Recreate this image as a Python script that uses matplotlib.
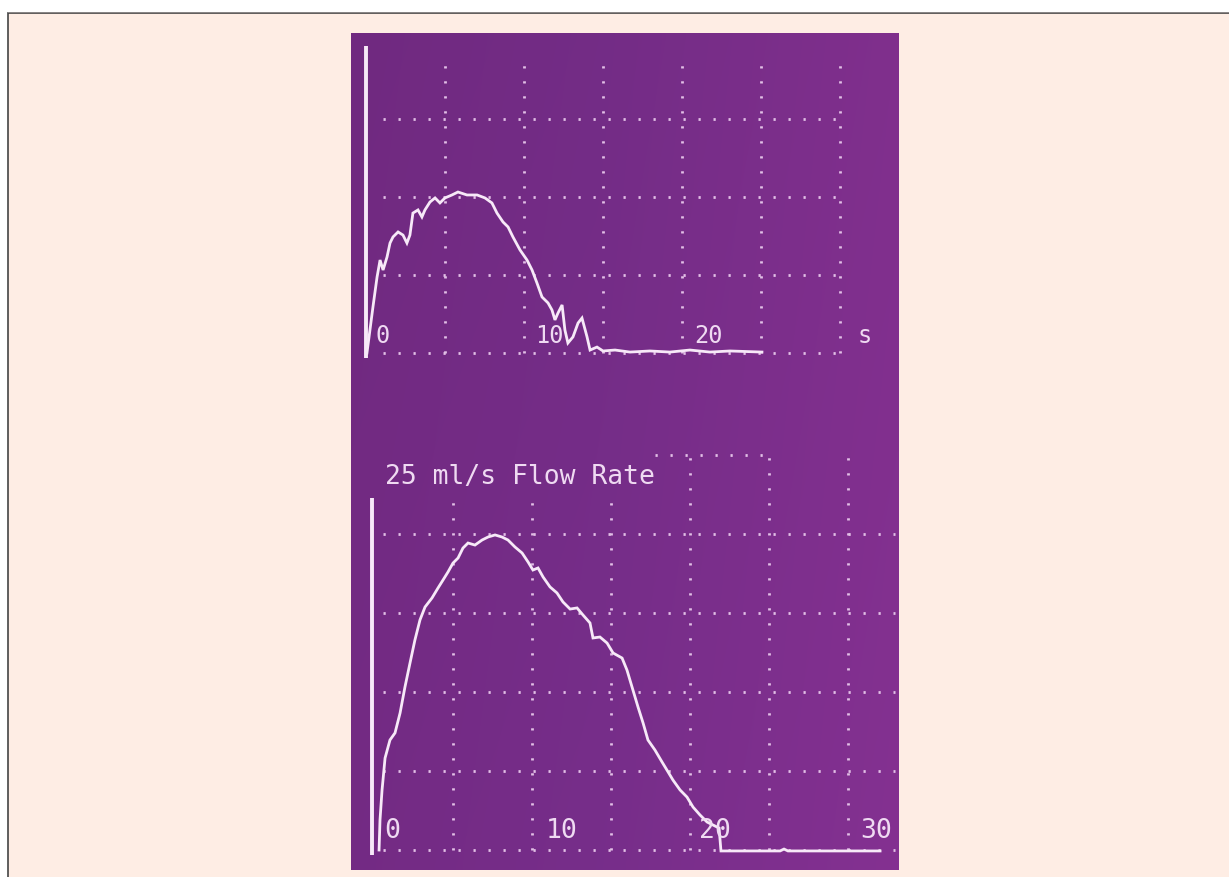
import numpy as np
import matplotlib
matplotlib.use("Agg")
import matplotlib.pyplot as plt
from matplotlib.patches import Rectangle
from matplotlib.colors import to_rgb

plt.rcParams['lines.scale_dashes'] = False

# ---------------- data ----------------
# Upper trace: time (s), flow (ml/s)
top_t = [0.06, 0.44, 0.7, 0.89, 1.08, 1.33, 1.52, 1.71, 2.03, 2.34, 2.59, 2.78, 2.97,
         3.29, 3.54, 3.73, 4.05, 4.37, 4.68, 5.0, 5.44, 5.82, 6.39, 7.03, 7.53, 7.97,
         8.29, 8.67, 8.99, 9.3, 9.75, 10.19, 10.51, 10.82, 11.14, 11.52, 11.77, 11.96,
         12.15, 12.41, 12.59, 12.78, 13.1, 13.42, 13.67, 13.99, 14.18, 14.62, 15.0,
         15.76, 16.71, 17.97, 19.24, 20.5, 21.77, 23.04, 25.06]
top_q = [0.0, 2.95, 4.87, 5.96, 5.32, 6.15, 7.05, 7.44, 7.76, 7.56, 7.05, 7.56, 8.97,
         9.17, 8.72, 9.17, 9.68, 9.94, 9.62, 9.94, 10.13, 10.32, 10.13, 10.13, 9.94, 9.62,
         8.97, 8.4, 8.08, 7.44, 6.6, 5.96, 5.32, 4.49, 3.59, 3.21, 2.76, 2.12,
         2.56, 3.08, 1.47, 0.64, 1.03, 1.92, 2.24, 1.03, 0.19, 0.38, 0.13,
         0.19, 0.06, 0.13, 0.06, 0.19, 0.06, 0.13, 0.06]

# Lower trace: time (s), flow (ml/s)
bot_t = [0.32, 0.38, 0.51, 0.7, 1.01, 1.33, 1.65, 1.96, 2.28, 2.59, 2.91, 3.23, 3.67,
         4.05, 4.37, 4.68, 5.0, 5.32, 5.63, 5.95, 6.39, 6.84, 7.22, 7.66, 8.1, 8.48,
         8.92, 9.37, 9.75, 10.06, 10.38, 10.7, 11.14, 11.58, 11.96, 12.41, 12.85, 13.23,
         13.67, 13.86, 14.3, 14.75, 15.13, 15.7, 16.01, 16.33, 16.71, 17.03, 17.34,
         17.78, 18.23, 18.54, 18.92, 19.37, 19.81, 20.19, 20.63, 21.08, 21.46, 21.84,
         21.96, 22.85, 25.7, 25.95, 26.2, 32.03]
bot_q = [0.0, 1.9, 3.8, 5.82, 6.96, 7.41, 8.67, 10.32, 11.84, 13.29, 14.56, 15.38, 15.95,
         16.58, 17.09, 17.59, 18.16, 18.48, 19.11, 19.43, 19.3, 19.62, 19.81, 19.94, 19.81,
         19.62, 19.18, 18.8, 18.23, 17.72, 17.85, 17.28, 16.65, 16.27, 15.7, 15.25, 15.32,
         14.87, 14.37, 13.42, 13.48, 13.1, 12.47, 12.15, 11.39, 10.32, 9.05, 8.04, 6.96,
         6.33, 5.57, 5.06, 4.43, 3.8, 3.35, 2.72, 2.22, 1.77, 1.58, 1.39,
         -0.06, -0.06, -0.06, 0.06, -0.06, -0.06]

x_ticks_grid = [5, 10, 15, 20, 25, 30]
top_levels = [0, 5, 10, 15]
bot_levels = [0, 5, 10, 15, 20]
top_tick_labels = ["0", "10", "20", "s"]
top_tick_pos = [0.57, 10.7, 20.76, 31.1]
bot_tick_labels = ["0", "10", "20", "30"]
bot_tick_pos = [0.63, 10.9, 20.6, 30.76]
title = "25 ml/s Flow Rate"

# ---------------- figure ----------------
W, H = 1229, 877
fig = plt.figure(figsize=(W / 100, H / 100), dpi=100, facecolor="white")

# outer panel
fig.patches.append(Rectangle((7.5 / W, -0.01), (W + 10) / W, (H - 12.5) / H + 0.01,
                             transform=fig.transFigure, facecolor="#FEEDE4",
                             edgecolor="#444444", linewidth=1.2, zorder=-10))
fig.patches.append(Rectangle((7.5 / W, (H - 13) / H), 1.0, 1.2 / H,
                             transform=fig.transFigure, facecolor="#8A8686",
                             edgecolor="none", zorder=-9))

# purple screen
px0, py0, px1, py1 = 351, 33, 899, 870
rect = [px0 / W, 1 - py1 / H, (px1 - px0) / W, (py1 - py0) / H]
ax_bg = fig.add_axes(rect)
c_left = np.array(to_rgb("#722A82"))
c_mid = np.array(to_rgb("#752D88"))
c_right = np.array(to_rgb("#82308F"))
nx, ny = 200, 100
u = np.linspace(0, 1, nx)
row = np.where(u[:, None] < 0.45,
               c_left + (c_mid - c_left) * (u[:, None] / 0.45),
               c_mid + (c_right - c_mid) * ((u[:, None] - 0.45) / 0.55))
img = np.repeat(row[None, :, :], ny, axis=0)
v = np.linspace(0, 1, ny)[:, None, None]
img = img * (1.0 + 0.03 * (v - 0.5))
img = np.clip(img, 0, 1)
ax_bg.imshow(img, aspect="auto", extent=[0, 1, 0, 1], interpolation="bilinear")
ax_bg.set_axis_off()

line_c = "#F7E9F8"
grid_c = "#E2C0E6"
text_c = "#EFDAF2"
dots = (0, (1.6, 9.2))

# ---------- top panel ----------
ax1 = fig.add_axes(rect, facecolor="none")
ax1.set_xlim((px0 - 366) / 15.8, (px1 - 366) / 15.8)
ax1.set_ylim((353 - py1) / 15.6, (353 - py0) / 15.6)
ax1.set_axis_off()
for lv in top_levels:
    ax1.plot([1.1, 30.0], [lv, lv], ls=dots, lw=2.0, color=grid_c, dash_capstyle="butt")
for gx in x_ticks_grid:
    ax1.plot([gx, gx], [0, 19.0], ls=dots, lw=2.0, color=grid_c, dash_capstyle="butt")
ax1.plot([0, 0], [-0.3, 19.7], color=line_c, lw=2.8, solid_capstyle="butt")
ax1.plot(top_t, top_q, color=line_c, lw=2.0, solid_joinstyle="miter")
for lab, xp in zip(top_tick_labels, top_tick_pos):
    ax1.text(xp, 1.1, lab, color=text_c, fontsize=17, family="DejaVu Sans Mono",
             ha="left", va="center")

# ---------- bottom panel ----------
ax2 = fig.add_axes(rect, facecolor="none")
ax2.set_xlim((px0 - 374) / 15.8, (px1 - 374) / 15.8)
ax2.set_ylim((850 - py1) / 15.8, (850 - py0) / 15.8)
ax2.set_axis_off()
for lv in bot_levels:
    ax2.plot([0.6, 33.0], [lv, lv], ls=dots, lw=2.0, color=grid_c, dash_capstyle="butt")
for gx in x_ticks_grid:
    top_y = 22.0 if gx <= 15 else 25.0
    ax2.plot([gx, gx], [0, top_y], ls=dots, lw=2.0, color=grid_c, dash_capstyle="butt")
ax2.plot([17.8, 25.0], [25.0, 25.0], ls=dots, lw=2.0, color=grid_c, dash_capstyle="butt")
ax2.plot([-0.13, -0.13], [-0.3, 22.3], color=line_c, lw=2.8, solid_capstyle="butt")
ax2.plot(bot_t, bot_q, color=line_c, lw=2.0, solid_joinstyle="miter")
for lab, xp in zip(bot_tick_labels, bot_tick_pos):
    ax2.text(xp, 1.2, lab, color=text_c, fontsize=19, family="DejaVu Sans Mono",
             ha="left", va="center")
ax2.text(0.7, 23.6, title, color=text_c, fontsize=19, family="DejaVu Sans Mono",
         ha="left", va="center")

fig.savefig("out.png", dpi=100, facecolor=fig.get_facecolor())
